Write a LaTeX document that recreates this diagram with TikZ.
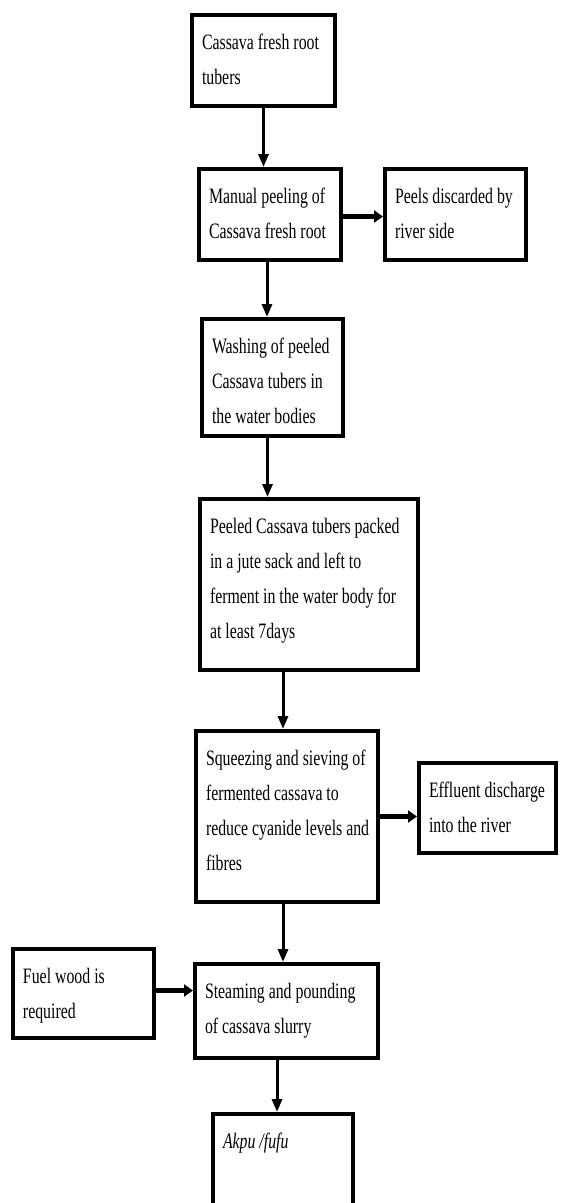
\documentclass[tikz,border=0pt]{standalone}
\usepackage{fontspec}
\setmainfont{Liberation Serif}[FakeStretch=0.72]
\usetikzlibrary{arrows.meta,positioning}

\begin{document}
\begin{tikzpicture}[
    node distance=58pt and 38pt,
    stepbox/.style 2 args={draw, line width=4pt, anchor=north west, inner xsep=2pt, inner ysep=10pt,
        execute at begin node={\fontsize{22pt}{35pt}\selectfont\begin{minipage}[t][\dimexpr#2pt-20pt\relax][t]{\dimexpr#1pt-4pt\relax}\raggedright\leftskip=8pt\strut},
        execute at end node={\end{minipage}}},
    flow/.style={-{Triangle[length=13pt,width=10pt]}, line width=3pt},
    sideflow/.style={-{Triangle[length=9pt,width=12pt]}, line width=4.5pt}
]
\useasboundingbox[fill=white] (0,0) rectangle (561pt,-1203pt);
\node[stepbox={143}{91}] (tubers) at (190pt,-13pt) {Cassava fresh root\\tubers};
\node[below=59pt of tubers.south west, xshift=7pt, stepbox={142}{91}] (peeling) {Manual peeling of\\Cassava fresh root};
\node[right=40pt of peeling.north east, stepbox={141}{91}] (peels) {Peels discarded by\\river side};
\node[below=55pt of peeling.south west, xshift=3pt, stepbox={141}{117}] (washing) {Washing of peeled\\Cassava tubers in\\the water bodies};
\node[below=59pt of washing.south west, xshift=-2pt, stepbox={218}{171}] (ferment) {Peeled Cassava tubers packed\\in a jute sack and left to\\ferment in the water body for\\at least 7days};
\node[below=57pt of ferment.south west, xshift=-4pt, stepbox={182}{171}] (squeeze) {Squeezing and sieving of\\fermented cassava to\\reduce cyanide levels and\\fibres};
\node[right=37pt of squeeze.north east, yshift=-32pt, stepbox={137}{90}] (effluent) {Effluent discharge\\into the river};
\node[below=58pt of squeeze.south west, xshift=-1pt, stepbox={183}{94}] (steaming) {Steaming and pounding\\of cassava slurry};
\node[left=37pt of steaming.north west, yshift=15pt, stepbox={141}{89}, anchor=north east] (fuel) {Fuel wood is\\required};
\node[below=52pt of steaming.south west, xshift=18pt, stepbox={140}{112}] (fufu) {\textit{Akpu /fufu}};
\draw[flow] (tubers.south) -- (tubers.south |- peeling.north);
\draw[sideflow] ([yshift=-2pt]peeling.east) -- ([yshift=-2pt]peeling.east -| peels.west);
\draw[flow] ([xshift=-3pt]peeling.south) -- ([xshift=-3pt]peeling.south |- washing.north);
\draw[flow] ([xshift=-5pt]washing.south) -- ([xshift=-5pt]washing.south |- ferment.north);
\draw[flow] ([xshift=-4pt]squeeze.north |- ferment.south) -- ([xshift=-4pt]squeeze.north);
\draw[sideflow] (squeeze.east) -- (squeeze.east -| effluent.west);
\draw[flow] ([xshift=-4pt]squeeze.south) -- ([xshift=-4pt]squeeze.south |- steaming.north);
\draw[sideflow] ([yshift=3pt]fuel.east) -- ([yshift=3pt]fuel.east -| steaming.west);
\draw[flow] ([xshift=-6pt]fufu.north |- steaming.south) -- ([xshift=-6pt]fufu.north);
\end{tikzpicture}
\end{document}
